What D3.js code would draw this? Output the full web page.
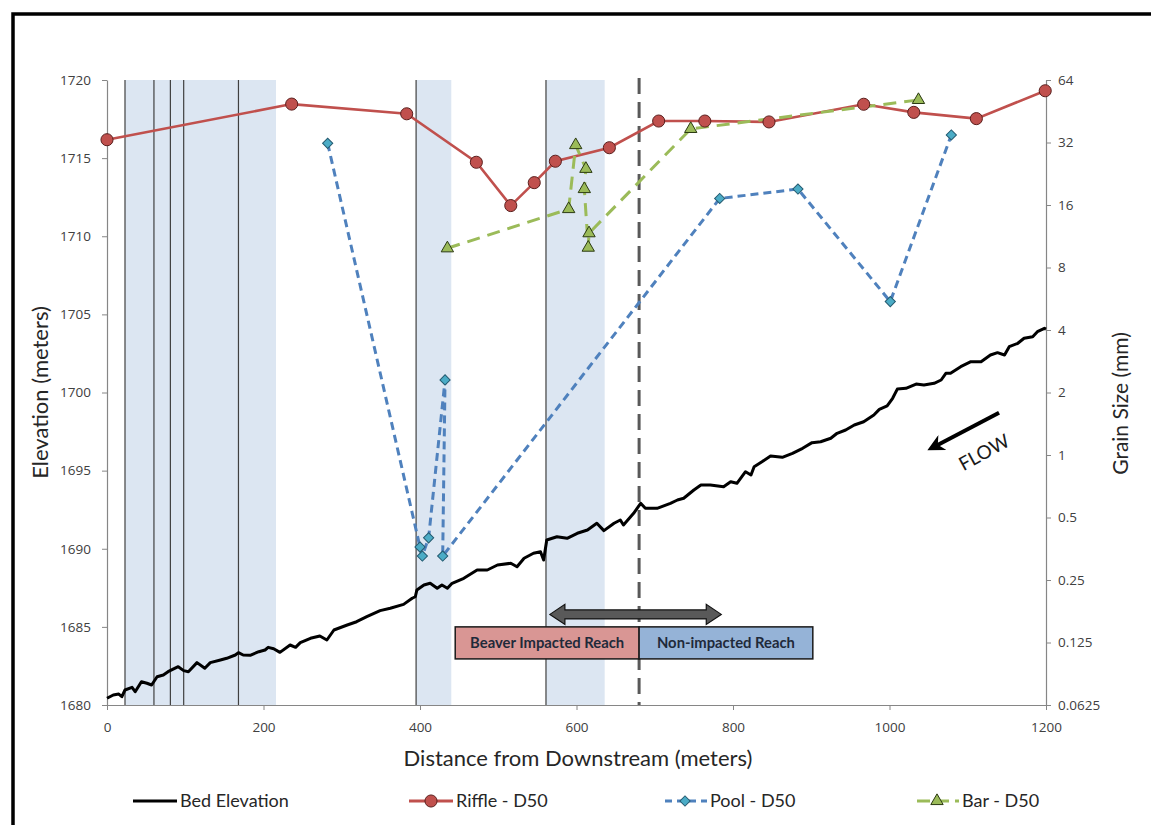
<!DOCTYPE html>
<html>
<head>
<meta charset="utf-8">
<script src="https://cdn.jsdelivr.net/npm/d3@7"></script>
<style>
  html, body { margin: 0; padding: 0; background: #fff; }
  svg { display: block; }
  text { font-family: Lato, "Open Sans", "Liberation Sans", sans-serif; }
</style>
</head>
<body>
<svg id="chart" width="1151" height="825"></svg>
<script>
// Longitudinal bed profile: [distance from downstream (m), bed elevation (m)]
const bedProfile = [
  [0,1680.43],[8,1680.64],[15,1680.70],[19,1680.53],[23,1680.96],[32,1681.13],[36,1680.85],
  [44,1681.49],[51,1681.39],[57,1681.28],[64,1681.81],[72,1681.92],[78,1682.13],[91,1682.45],
  [98,1682.20],[104,1682.13],[115,1682.71],[125,1682.35],[132,1682.71],[145,1682.88],[153,1682.99],
  [164,1683.20],[168,1683.35],[174,1683.20],[183,1683.18],[194,1683.41],[202,1683.52],[206,1683.69],
  [213,1683.60],[221,1683.37],[234,1683.84],[241,1683.69],[247,1683.99],[260,1684.27],[272,1684.42],
  [281,1684.16],[290,1684.80],[307,1685.12],[319,1685.33],[332,1685.65],[349,1686.04],[362,1686.19],
  [379,1686.44],[390,1686.83],[394,1686.93],[396,1687.36],[405,1687.68],[413,1687.79],[422,1687.47],
  [428,1687.68],[435,1687.47],[441,1687.79],[456,1688.11],[473,1688.64],[486,1688.64],[499,1688.96],
  [516,1689.07],[524,1688.85],[533,1689.39],[545,1689.71],[554,1689.81],[558,1689.28],[562,1690.56],
  [575,1690.77],[588,1690.67],[601,1690.99],[614,1691.20],[626,1691.63],[635,1691.16],[648,1691.63],
  [656,1691.84],[660,1691.52],[673,1692.27],[682,1692.91],[688,1692.59],[703,1692.59],[720,1692.91],
  [729,1693.12],[737,1693.23],[750,1693.76],[759,1694.08],[771,1694.08],[788,1693.97],[797,1694.29],
  [805,1694.19],[816,1694.93],[823,1694.72],[827,1695.25],[837,1695.57],[848,1695.94],[863,1695.85],
  [876,1696.11],[889,1696.43],[901,1696.79],[912,1696.85],[925,1697.07],[933,1697.39],[944,1697.60],
  [955,1697.92],[967,1698.13],[980,1698.56],[987,1698.92],[997,1699.14],[1004,1699.63],[1010,1700.22],
  [1021,1700.27],[1034,1700.54],[1044,1700.48],[1057,1700.59],[1066,1700.80],[1072,1701.23],
  [1078,1701.23],[1091,1701.65],[1104,1701.97],[1117,1701.97],[1129,1702.40],[1138,1702.55],
  [1147,1702.40],[1153,1702.93],[1164,1703.15],[1172,1703.47],[1183,1703.57],[1189,1703.89],
  [1198,1704.11],[1200,1704.06]
];

// Median grain size (D50, mm) by feature type
const riffleDist = [0, 236, 383, 472, 516, 546, 573, 642, 705, 764, 846, 967, 1031, 1111, 1199];
const riffleD50  = [33, 49, 44, 25.7, 15.9, 20.5, 26, 30.2, 40.6, 40.6, 40.2, 48.9, 44.7, 41.7, 56.8];

const poolDist = [282, 400, 403, 411, 432, 429, 783, 883, 1001, 1079];
const poolD50  = [31.7, 0.36, 0.326, 0.399, 2.30, 0.326, 17.2, 19.1, 5.48, 34.8];

const barDist = [435, 590, 599, 612, 610, 615, 616, 746, 1037];
const barD50  = [9.9, 15.3, 31.1, 23.9, 19.1, 9.97, 11.7, 37.2, 51.3];

// Beaver dam complexes (shaded spans) and individual dam locations (m)
const damZones = [[23, 216], [395, 440], [561, 636]];
const damLines = [23, 60, 81, 98, 168, 395, 561];
const reachBoundary = 680;

// Axis ticks
const xTicks = [0, 200, 400, 600, 800, 1000, 1200];
const elevTicks = [1680, 1685, 1690, 1695, 1700, 1705, 1710, 1715, 1720];
const grainTicks = [0.0625, 0.125, 0.25, 0.5, 1, 2, 4, 8, 16, 32, 64];
const grainLabels = ["0.0625", "0.125", "0.25", "0.5", "1", "2", "4", "8", "16", "32", "64"];

const svg = d3.select("#chart");

const x = d3.scaleLinear().domain([0, 1200]).range([107, 1046]);
const yElev = d3.scaleLinear().domain([1680, 1720]).range([705, 80]);
const yGrain = d3.scaleLog().base(2).domain([0.0625, 64]).range([705, 80]);

// Outer frame
svg.append("rect")
  .attr("x", 13).attr("y", 14).attr("width", 1170).attr("height", 850)
  .attr("fill", "none").attr("stroke", "#000").attr("stroke-width", 3.5);

// Dam complexes
svg.append("g").selectAll("rect").data(damZones).join("rect")
  .attr("x", d => x(d[0]))
  .attr("width", d => x(d[1]) - x(d[0]))
  .attr("y", yElev(1720))
  .attr("height", yElev(1680) - yElev(1720))
  .attr("fill", "#dce6f2");

svg.append("g").selectAll("line").data(damLines).join("line")
  .attr("x1", d => x(d)).attr("x2", d => x(d))
  .attr("y1", yElev(1720)).attr("y2", yElev(1680))
  .attr("stroke", "#404040").attr("stroke-width", 1.2);

// Axes
const axisColor = "#868686";
const tickText = "#404040";
function styleAxis(g) {
  g.select(".domain").attr("stroke", axisColor).attr("stroke-width", 1.2);
  g.selectAll(".tick line").attr("stroke", axisColor);
  g.selectAll(".tick text")
    .attr("fill", tickText)
    .style("font-family", "'Open Sans', sans-serif")
    .style("font-size", "13.5px");
}

svg.append("g")
  .attr("transform", `translate(0,${yElev(1680)})`)
  .call(d3.axisBottom(x).tickValues(xTicks).tickSize(5).tickSizeOuter(0).tickPadding(12).tickFormat(d3.format("d")))
  .call(styleAxis);

svg.append("g")
  .attr("transform", `translate(${x(0)},0)`)
  .call(d3.axisLeft(yElev).tickValues(elevTicks).tickSize(5).tickSizeOuter(0).tickPadding(11).tickFormat(d3.format("d")))
  .call(styleAxis);

svg.append("g")
  .attr("transform", `translate(${x(1200)},0)`)
  .call(d3.axisRight(yGrain).tickValues(grainTicks).tickSize(5).tickSizeOuter(0).tickPadding(7)
    .tickFormat((d, i) => grainLabels[i]))
  .call(styleAxis);

// Axis titles
svg.append("text")
  .attr("x", 578).attr("y", 766)
  .attr("text-anchor", "middle").attr("fill", "#262626")
  .style("font-size", "22px")
  .text("Distance from Downstream (meters)");

svg.append("text")
  .attr("transform", `translate(48,${(yElev(1680) + yElev(1720)) / 2}) rotate(-90)`)
  .attr("text-anchor", "middle").attr("fill", "#262626")
  .style("font-size", "22px")
  .text("Elevation (meters)");

svg.append("text")
  .attr("transform", `translate(1128,${(yElev(1680) + yElev(1720)) / 2 + 11}) rotate(-90)`)
  .attr("text-anchor", "middle").attr("fill", "#262626")
  .style("font-size", "21px")
  .text("Grain Size (mm)");

// Reach boundary
svg.append("line")
  .attr("x1", x(reachBoundary)).attr("x2", x(reachBoundary))
  .attr("y1", yElev(1720) - 2).attr("y2", yElev(1680))
  .attr("stroke", "#595959").attr("stroke-width", 3)
  .attr("stroke-dasharray", "16,8");

// Bed elevation profile
svg.append("path")
  .datum(bedProfile)
  .attr("fill", "none").attr("stroke", "#000").attr("stroke-width", 3)
  .attr("stroke-linejoin", "round")
  .attr("d", d3.line().x(d => x(d[0])).y(d => yElev(d[1])));

// Grain size series
const zip = (xs, ys) => xs.map((d, i) => [d, ys[i]]);
const grainLine = d3.line().x(d => x(d[0])).y(d => yGrain(d[1]));

const series = [
  { key: "riffle", data: zip(riffleDist, riffleD50), color: "#c0504d", dash: null,
    fill: "#c0504d", edge: "#5a1f1d", symbol: d3.symbolCircle, size: 115, rot: 0 },
  { key: "pool", data: zip(poolDist, poolD50), color: "#4f81bd", dash: "8,5",
    fill: "#4bacc6", edge: "#245a70", symbol: d3.symbolSquare, size: 52, rot: 45 },
  { key: "bar", data: zip(barDist, barD50), color: "#9bbb59", dash: "13,8",
    fill: "#9bbb59", edge: "#2b3a12", symbol: d3.symbolTriangle, size: 66, rot: 0 }
];

series.forEach(s => {
  svg.append("path")
    .datum(s.data)
    .attr("fill", "none").attr("stroke", s.color)
    .attr("stroke-width", s.dash ? 3 : 2.6)
    .attr("stroke-dasharray", s.dash)
    .attr("d", grainLine);
});
series.forEach(s => {
  svg.append("g").selectAll("path").data(s.data).join("path")
    .attr("transform", d => `translate(${x(d[0])},${yGrain(d[1])}) rotate(${s.rot})`)
    .attr("d", d3.symbol().type(s.symbol).size(s.size))
    .attr("fill", s.fill).attr("stroke", s.edge).attr("stroke-width", 1);
});

// Reach annotation: double arrow and labels
const arrY = yElev(1685.8);
const ax0 = x(566), ax1 = x(785);
svg.append("path")
  .attr("d", `M${ax0},${arrY} L${ax0 + 15},${arrY - 10} L${ax0 + 15},${arrY - 4.5} L${ax1 - 15},${arrY - 4.5}
              L${ax1 - 15},${arrY - 10} L${ax1},${arrY} L${ax1 - 15},${arrY + 10} L${ax1 - 15},${arrY + 4.5}
              L${ax0 + 15},${arrY + 4.5} L${ax0 + 15},${arrY + 10} Z`)
  .attr("fill", "#595959").attr("stroke", "#111").attr("stroke-width", 1.2);

const boxTop = yElev(1685.0), boxBot = yElev(1682.95);
const reachBoxes = [
  { x0: 445, x1: reachBoundary, fill: "#d99694", label: "Beaver Impacted Reach" },
  { x0: reachBoundary, x1: 902, fill: "#95b3d7", label: "Non-impacted Reach" }
];
reachBoxes.forEach(b => {
  svg.append("rect")
    .attr("x", x(b.x0)).attr("y", boxTop)
    .attr("width", x(b.x1) - x(b.x0)).attr("height", boxBot - boxTop)
    .attr("fill", b.fill).attr("stroke", "#1a1a1a").attr("stroke-width", 1.5);
  svg.append("text")
    .attr("x", (x(b.x0) + x(b.x1)) / 2).attr("y", (boxTop + boxBot) / 2 + 5)
    .attr("text-anchor", "middle").attr("fill", "#1f2a3a")
    .style("font-size", "14.8px").style("font-weight", "bold")
    .text(b.label);
});

// Flow direction
const defs = svg.append("defs");
defs.append("marker")
  .attr("id", "flowHead").attr("viewBox", "0 0 10 10")
  .attr("refX", 6).attr("refY", 5)
  .attr("markerWidth", 4.2).attr("markerHeight", 4.2)
  .attr("orient", "auto")
  .append("path").attr("d", "M0,0 L10,5 L0,10 L3,5 Z").attr("fill", "#000");

svg.append("line")
  .attr("x1", x(1140)).attr("y1", yElev(1698.7))
  .attr("x2", x(1056)).attr("y2", yElev(1696.5))
  .attr("stroke", "#000").attr("stroke-width", 4)
  .attr("marker-end", "url(#flowHead)");

svg.append("text")
  .attr("transform", `translate(${x(1125)},${yElev(1695.8)}) rotate(-29)`)
  .attr("text-anchor", "middle").attr("fill", "#1a1a1a")
  .style("font-size", "19px")
  .text("FLOW");

// Legend
const legendY = 801;
const legendItems = [
  { x0: 133, label: "Bed Elevation", color: "#000", dash: null, width: 3, symbol: null },
  { x0: 409, label: "Riffle - D50", color: "#c0504d", dash: null, width: 3, s: series[0] },
  { x0: 663, label: "Pool - D50", color: "#4f81bd", dash: "8,5", width: 3, s: series[1] },
  { x0: 915, label: "Bar - D50", color: "#9bbb59", dash: "13,8", width: 3, s: series[2] }
];
legendItems.forEach(it => {
  const g = svg.append("g");
  g.append("line")
    .attr("x1", it.x0).attr("x2", it.x0 + 44)
    .attr("y1", legendY).attr("y2", legendY)
    .attr("stroke", it.color).attr("stroke-width", it.width)
    .attr("stroke-dasharray", it.dash ? (it.s.key === "pool" ? "7,5" : "13,6") : null)
    .attr("stroke-dashoffset", it.dash ? -2 : 0);
  if (it.s) {
    g.append("path")
      .attr("transform", `translate(${it.x0 + 22},${legendY}) rotate(${it.s.rot})`)
      .attr("d", d3.symbol().type(it.s.symbol).size(it.s.size))
      .attr("fill", it.s.fill).attr("stroke", it.s.edge).attr("stroke-width", 1);
  }
  g.append("text")
    .attr("x", it.x0 + 47).attr("y", legendY + 6)
    .attr("fill", "#262626")
    .style("font-size", "18px")
    .text(it.label);
});
</script>
</body>
</html>
